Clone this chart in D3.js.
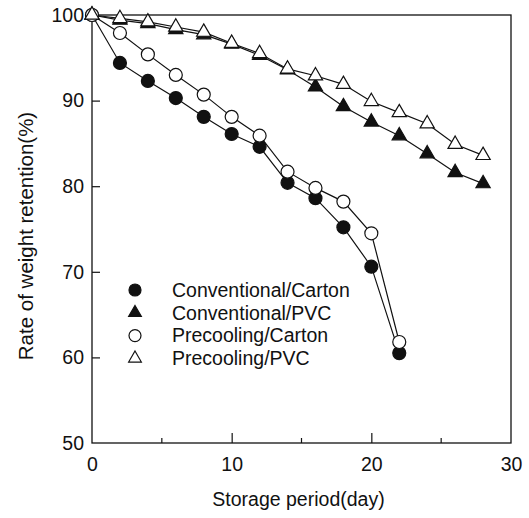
<!DOCTYPE html>
<html>
<head>
<meta charset="utf-8">
<script src="https://cdn.jsdelivr.net/npm/d3@7"></script>
<style>
  body { margin: 0; background: #fff; }
  text { font-family: "Liberation Sans", Arial, sans-serif; fill: #111; }
</style>
</head>
<body>
<div id="chart"></div>
<script>
// Storage days
var daysCarton = [0, 2, 4, 6, 8, 10, 12, 14, 16, 18, 20, 22];
var daysPVC = [0, 2, 4, 6, 8, 10, 12, 14, 16, 18, 20, 22, 24, 26, 28];

// Rate of weight retention (%)
var convCarton = [100, 94.4, 92.3, 90.3, 88.1, 86.1, 84.6, 80.4, 78.6, 75.2, 70.6, 60.5];
var convPVC = [100, 99.4, 99.0, 98.3, 97.7, 96.6, 95.3, 93.6, 91.6, 89.3, 87.5, 85.9, 83.8, 81.6, 80.3];
var preCarton = [100, 97.9, 95.4, 93.0, 90.7, 88.1, 85.9, 81.7, 79.8, 78.2, 74.5, 61.8];
var prePVC = [100, 99.6, 99.2, 98.6, 98.0, 96.7, 95.5, 93.7, 92.9, 91.9, 89.9, 88.6, 87.3, 84.9, 83.6];

var seriesNames = ["Conventional/Carton", "Conventional/PVC", "Precooling/Carton", "Precooling/PVC"];

var xTicks = [0, 10, 20, 30];
var xMinorTicks = [5, 15, 25];
var yTicks = [50, 60, 70, 80, 90, 100];

var svgWidth = 529;
var svgHeight = 518;

var margin = { top: 15, right: 18, bottom: 75, left: 92 };
var width = svgWidth - margin.left - margin.right;
var height = svgHeight - margin.top - margin.bottom;

var svg = d3.select("#chart").append("svg")
  .attr("width", svgWidth)
  .attr("height", svgHeight);

var chartGroup = svg.append("g")
  .attr("transform", `translate(${margin.left}, ${margin.top})`);

var xScale = d3.scaleLinear().domain([0, 30]).range([0, width]);
var yScale = d3.scaleLinear().domain([50, 100]).range([height, 0]);

// frame
chartGroup.append("rect")
  .attr("width", width)
  .attr("height", height)
  .attr("fill", "none")
  .attr("stroke", "#111")
  .attr("stroke-width", 1.3);

// bottom axis, ticks pointing inward
var bottomAxis = d3.axisBottom(xScale)
  .tickValues(xTicks)
  .tickSizeInner(-10)
  .tickSizeOuter(0)
  .tickPadding(14)
  .tickFormat(d3.format("d"));
var xAxisG = chartGroup.append("g")
  .attr("transform", `translate(0, ${height})`)
  .call(bottomAxis);
xAxisG.select(".domain").remove();
xAxisG.selectAll("line").attr("stroke", "#111").attr("stroke-width", 1.2)
  .filter(d => d === 0 || d === 30).remove();
xAxisG.selectAll("text").style("font-size", "19.5px");

chartGroup.append("g")
  .selectAll("line")
  .data(xMinorTicks)
  .enter()
  .append("line")
  .attr("x1", d => xScale(d))
  .attr("x2", d => xScale(d))
  .attr("y1", height)
  .attr("y2", height - 5)
  .attr("stroke", "#111")
  .attr("stroke-width", 1.2);

// left axis
var leftAxis = d3.axisLeft(yScale)
  .tickValues(yTicks)
  .tickSizeInner(-8)
  .tickSizeOuter(0)
  .tickPadding(8);
var yAxisG = chartGroup.append("g").call(leftAxis);
yAxisG.select(".domain").remove();
yAxisG.selectAll("line").attr("stroke", "#111").attr("stroke-width", 1.2)
  .filter(d => d === 50 || d === 100).remove();
yAxisG.selectAll("text").style("font-size", "19.5px");

// series setup
var series = [
  { name: seriesNames[0], days: daysCarton, values: convCarton, shape: "circle", fill: "#111" },
  { name: seriesNames[1], days: daysPVC, values: convPVC, shape: "triangle", fill: "#111" },
  { name: seriesNames[2], days: daysCarton, values: preCarton, shape: "circle", fill: "#fff" },
  { name: seriesNames[3], days: daysPVC, values: prePVC, shape: "triangle", fill: "#fff" }
];

var line = d3.line()
  .x(d => xScale(d[0]))
  .y(d => yScale(d[1]));

var circleSym = d3.symbol().type(d3.symbolCircle).size(Math.PI * 6.5 * 6.5);
var triSym = d3.symbol().type(d3.symbolTriangle).size(88);

series.forEach(function (s) {
  s.points = s.days.map((d, i) => [d, s.values[i]]);
});

// lines first
series.forEach(function (s) {
  chartGroup.append("path")
    .datum(s.points)
    .attr("d", line)
    .attr("fill", "none")
    .attr("stroke", "#111")
    .attr("stroke-width", 1.2);
});

// markers
series.forEach(function (s) {
  chartGroup.append("g")
    .selectAll("path")
    .data(s.points)
    .enter()
    .append("path")
    .attr("transform", d => `translate(${xScale(d[0])}, ${yScale(d[1])})`)
    .attr("d", s.shape === "circle" ? circleSym : triSym)
    .attr("fill", s.fill)
    .attr("stroke", "#111")
    .attr("stroke-width", 1.2);
});

// legend
var legend = svg.append("g")
  .attr("transform", "translate(135, 290)");

var legendItems = legend.selectAll("g")
  .data(series)
  .enter()
  .append("g")
  .attr("transform", (d, i) => `translate(0, ${i * 22.8})`);

legendItems.append("path")
  .attr("d", d => d.shape === "circle"
    ? d3.symbol().type(d3.symbolCircle).size(Math.PI * 6 * 6)()
    : d3.symbol().type(d3.symbolTriangle).size(70)())
  .attr("fill", d => d.fill)
  .attr("stroke", "#111")
  .attr("stroke-width", 1.2);

legendItems.append("text")
  .attr("x", 37)
  .attr("dy", "0.35em")
  .style("font-size", "19.5px")
  .text(d => d.name);

// axis labels
svg.append("text")
  .attr("x", margin.left + width / 2 - 3)
  .attr("y", 506)
  .attr("text-anchor", "middle")
  .style("font-size", "19.5px")
  .text("Storage period(day)");

svg.append("text")
  .attr("transform", `translate(33, 236) rotate(-90)`)
  .attr("text-anchor", "middle")
  .style("font-size", "20.5px")
  .text("Rate of weight retention(%)");
</script>
</body>
</html>
